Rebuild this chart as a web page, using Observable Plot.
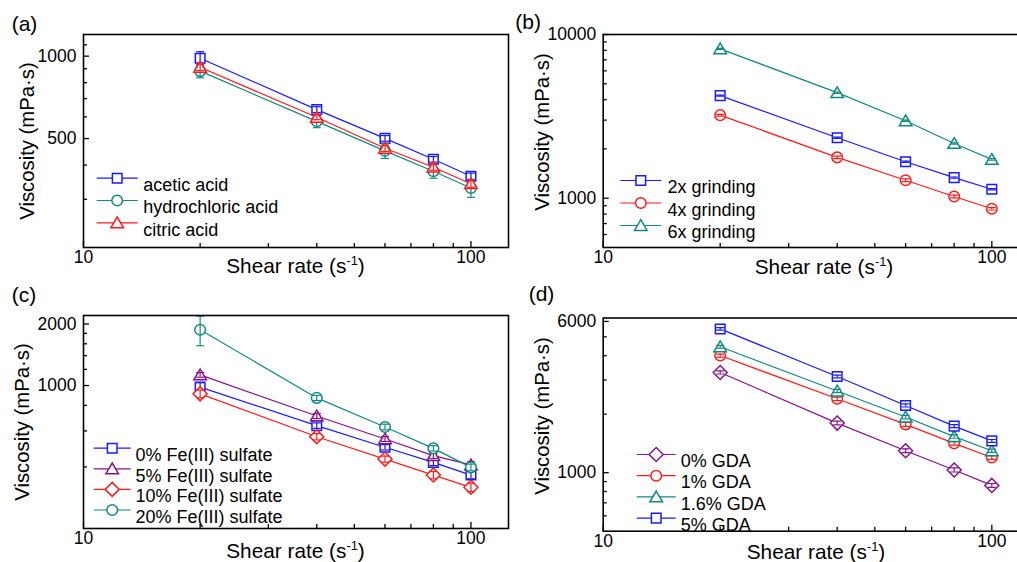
<!DOCTYPE html>
<html><head><meta charset="utf-8">
<script src="https://cdn.jsdelivr.net/npm/d3@7"></script>
<script src="https://cdn.jsdelivr.net/npm/@observablehq/plot@0.6"></script>
<style>
html,body{margin:0;padding:0;background:#fff;}
#root{position:relative;width:1017px;height:562px;overflow:hidden;font-family:"Liberation Sans",Arial,sans-serif;color:#000;background:#fff;}
#root svg{position:absolute;}
.lab{position:absolute;font-size:21px;line-height:1;white-space:nowrap;}
.xt{position:absolute;font-size:20.8px;line-height:1;white-space:nowrap;transform:translateX(-50%);}
.yt{position:absolute;font-size:20.3px;line-height:1;white-space:nowrap;transform:translate(-50%,-50%) rotate(-90deg);}
sup{font-size:0.62em;line-height:0;vertical-align:0.6em;}
</style></head><body><div id="root"></div><script>
// ---------- data ----------
const shearRate = [20, 40, 60, 80, 100];
const xMajorTicks = [10, 100];
const xMinorTicks = [20, 30, 40, 50, 60, 70, 80, 90];

// (a) acid type
const aNames = ["acetic acid", "hydrochloric acid", "citric acid"];
const aAcetic = [983, 638, 501, 420, 364];
const aAceticErr = [55, 16, 12, 10, 10];
const aHydrochloric = [882, 578, 451, 380, 330];
const aHydrochloricErr = [48, 30, 28, 22, 25];
const aCitric = [911, 598, 461, 393, 342];
const aCitricErr = [25, 12, 12, 10, 10];
const aYMajor = [500, 1000];
const aYMinor = [300, 400, 600, 700, 800, 900, 1100];

// (b) grinding
const bNames = ["2x grinding", "4x grinding", "6x grinding"];
const b2x = [4231, 2339, 1671, 1336, 1135];
const b2xErr = [30, 20, 15, 12, 10];
const b4x = [3216, 1776, 1287, 1024, 862];
const b4xErr = [40, 30, 25, 20, 15];
const b6x = [8173, 4415, 2971, 2160, 1726];
const b6xErr = [60, 40, 30, 20, 20];
const bYMajor = [1000, 10000];
const bYMinor = [600, 700, 800, 900, 2000, 3000, 4000, 5000, 6000, 7000, 8000, 9000];

// (c) Fe(III) sulfate
const cNames = ["0% Fe(III) sulfate", "5% Fe(III) sulfate", "10% Fe(III) sulfate", "20% Fe(III) sulfate"];
const c0 = [982, 637, 499, 421, 365];
const c0Err = [50, 20, 15, 15, 15];
const c5 = [1128, 710, 548, 454, 409];
const c5Err = [30, 20, 15, 15, 15];
const c10 = [911, 562, 437, 365, 318];
const c10Err = [40, 20, 15, 15, 15];
const c20 = [1875, 870, 627, 493, 398];
const c20Err = [310, 25, 20, 15, 15];
const cYMajor = [1000, 2000];
const cYMinor = [400, 600, 800, 1200, 1400, 1600, 1800];

// (d) GDA
const dNames = ["0% GDA", "1% GDA", "1.6% GDA", "5% GDA"];
const d0 = [3279, 1800, 1297, 1033, 860];
const d0Err = [60, 40, 30, 25, 20];
const d1 = [4006, 2400, 1772, 1416, 1197];
const d1Err = [70, 50, 40, 30, 25];
const d16 = [4444, 2632, 1934, 1534, 1297];
const d16Err = [70, 50, 40, 30, 25];
const d5 = [5491, 3125, 2218, 1736, 1457];
const d5Err = [80, 50, 40, 30, 25];
const dYMajor = [1000, 6000];
const dYMinor = [600, 700, 800, 900, 2000, 3000, 4000, 5000];

// ---------- styles ----------
const BLUE = "#1a1aff", RED = "#ff1a1a", TEAL = "#138a80", PURPLE = "#86128a";
const FONT = "'Liberation Sans', Arial, sans-serif";

const sym = {
  square: {draw(c){ c.moveTo(-4.8,-4.8); c.lineTo(4.8,-4.8); c.lineTo(4.8,4.8); c.lineTo(-4.8,4.8); c.closePath(); }},
  circle: {draw(c){ c.moveTo(5.3,0); c.arc(0,0,5.3,0,2*Math.PI); c.closePath(); }},
  triangle: {draw(c){ c.moveTo(0,-5.8); c.lineTo(6.3,4.9); c.lineTo(-6.3,4.9); c.closePath(); }},
  diamond: {draw(c){ c.moveTo(0,-7); c.lineTo(7,0); c.lineTo(0,7); c.lineTo(-7,0); c.closePath(); }}
};
const cap = {draw(c){ c.moveTo(-4,0); c.lineTo(4,0); }};
const seg = (len) => ({draw(c){ c.moveTo(-len/2,0); c.lineTo(len/2,0); }});

function makePanel(cfg) {
  const marks = [];
  const tables = cfg.series.map(s => shearRate.map((x, i) => ({x, y: s.values[i], lo: s.values[i] - s.err[i], hi: s.values[i] + s.err[i]})));
  cfg.series.forEach((s, k) => marks.push(Plot.line(tables[k], {x: "x", y: "y", stroke: s.color, strokeWidth: 1.2})));
  cfg.series.forEach((s, k) => {
    marks.push(Plot.dot(tables[k], {x: "x", y: "y", symbol: sym[s.shape], r: 5, fill: "white", stroke: s.color, strokeWidth: 1.5}));
    marks.push(Plot.ruleX(tables[k], {x: "x", y1: "lo", y2: "hi", stroke: s.color, strokeWidth: 1.2, clip: true}));
    marks.push(Plot.dot(tables[k], {x: "x", y: "hi", symbol: cap, stroke: s.color, strokeWidth: 1.2, clip: true}));
    marks.push(Plot.dot(tables[k], {x: "x", y: "lo", symbol: cap, stroke: s.color, strokeWidth: 1.2, clip: true}));
  });
  // legend
  const L = cfg.legend;
  cfg.series.forEach((s, k) => {
    const dy = L.y0 + k * L.step;
    marks.push(Plot.dot([s.name], {frameAnchor: "top-left", dx: L.mx, dy, symbol: seg(L.len), stroke: s.color, strokeWidth: 1.2}));
    marks.push(Plot.dot([s.name], {frameAnchor: "top-left", dx: L.mx, dy, symbol: sym[s.shape], r: 5, fill: "white", stroke: s.color, strokeWidth: 1.5}));
    marks.push(Plot.text([s.name], {frameAnchor: "top-left", dx: L.tx, dy, text: d => d, textAnchor: "start", fontSize: 18, fill: "black"}));
  });
  // axes: inward ticks
  marks.push(Plot.axisX({ticks: xMajorTicks, tickSize: -6, tickFormat: () => "", label: null, strokeWidth: 1.3}));
  marks.push(Plot.axisX({ticks: xMinorTicks, tickSize: -4, tickFormat: () => "", label: null, strokeWidth: 1.3}));
  marks.push(Plot.axisY({ticks: cfg.yMajor, tickSize: -6, tickFormat: () => "", label: null, strokeWidth: 1.3}));
  marks.push(Plot.axisY({ticks: cfg.yMinor, tickSize: -4, tickFormat: () => "", label: null, strokeWidth: 1.3}));
  // tick labels
  marks.push(Plot.text(xMajorTicks, {x: d => d, frameAnchor: "bottom", dy: 15.5, text: d => String(d), fontSize: 17.5, fill: "black"}));
  marks.push(Plot.text(cfg.yMajor, {y: d => d, frameAnchor: "left", dx: -7, textAnchor: "end", text: d => String(d), fontSize: 17.5, fill: "black"}));
  marks.push(Plot.frame({stroke: "black", strokeWidth: 1.6}));
  const svg = Plot.plot({
    width: cfg.width, height: cfg.height,
    marginLeft: cfg.m[0], marginTop: cfg.m[1], marginRight: cfg.m[2], marginBottom: cfg.m[3],
    x: {type: "log", domain: [10, 125]},
    y: {type: "log", domain: cfg.yDomain},
    style: {fontFamily: FONT, fontSize: "17.5px", color: "black", background: "transparent", overflow: "visible"},
    marks
  });
  svg.style.left = cfg.left + "px";
  svg.style.top = cfg.top + "px";
  return svg;
}

const root = document.getElementById("root");

root.appendChild(makePanel({
  left: 0, top: 0, width: 510, height: 280, m: [83, 34, 2, 33],
  yDomain: [200, 1200], yMajor: aYMajor, yMinor: aYMinor,
  series: [
    {name: aNames[0], values: aAcetic, err: aAceticErr, color: BLUE, shape: "square"},
    {name: aNames[1], values: aHydrochloric, err: aHydrochloricErr, color: TEAL, shape: "circle"},
    {name: aNames[2], values: aCitric, err: aCitricErr, color: RED, shape: "triangle"}
  ],
  legend: {mx: 33.7, tx: 59.7, y0: 143.7, step: 22.3, len: 41}
}));

root.appendChild(makePanel({
  left: 510, top: 0, width: 521, height: 280, m: [92.7, 34, 2, 33],
  yDomain: [500, 10000], yMajor: bYMajor, yMinor: bYMinor,
  series: [
    {name: bNames[0], values: b2x, err: b2xErr, color: BLUE, shape: "square"},
    {name: bNames[1], values: b4x, err: b4xErr, color: RED, shape: "circle"},
    {name: bNames[2], values: b6x, err: b6xErr, color: TEAL, shape: "triangle"}
  ],
  legend: {mx: 37.6, tx: 64.3, y0: 146, step: 22.5, len: 41}
}));

root.appendChild(makePanel({
  left: 0, top: 280, width: 510, height: 282, m: [83, 35, 2, 34],
  yDomain: [200, 2200], yMajor: cYMajor, yMinor: cYMinor,
  series: [
    {name: cNames[0], values: c0, err: c0Err, color: BLUE, shape: "square"},
    {name: cNames[1], values: c5, err: c5Err, color: PURPLE, shape: "triangle"},
    {name: cNames[2], values: c10, err: c10Err, color: RED, shape: "diamond"},
    {name: cNames[3], values: c20, err: c20Err, color: TEAL, shape: "circle"}
  ],
  legend: {mx: 28.7, tx: 52, y0: 132.7, step: 20.6, len: 37}
}));

root.appendChild(makePanel({
  left: 510, top: 280, width: 521, height: 282, m: [92.7, 37.5, 2, 31.3],
  yDomain: [500, 6250], yMajor: dYMajor, yMinor: dYMinor,
  series: [
    {name: dNames[0], values: d0, err: d0Err, color: PURPLE, shape: "diamond"},
    {name: dNames[1], values: d1, err: d1Err, color: RED, shape: "circle"},
    {name: dNames[2], values: d16, err: d16Err, color: TEAL, shape: "triangle"},
    {name: dNames[3], values: d5, err: d5Err, color: BLUE, shape: "square"}
  ],
  legend: {mx: 53, tx: 77.6, y0: 136.5, step: 21.2, len: 39}
}));

// ---------- titles ----------
const html = [];
const panelLabels = [["(a)", 11.7, 12.7], ["(b)", 515.3, 11], ["(c)", 11.7, 284.4], ["(d)", 528.7, 282.7]];
panelLabels.forEach(([t, x, y]) => html.push(`<div class="lab" style="left:${x}px;top:${y}px">${t}</div>`));
const xTitles = [[295.5, 255.5], [824, 257], [295.5, 541], [816, 542]];
xTitles.forEach(([x, y]) => html.push(`<div class="xt" style="left:${x}px;top:${y}px">Shear rate (s<sup>-1</sup>)</div>`));
const yTitles = [[27, 140.5], [542, 132], [22, 422], [542, 416]];
yTitles.forEach(([x, y]) => html.push(`<div class="yt" style="left:${x}px;top:${y}px">Viscosity (mPa·s)</div>`));
root.insertAdjacentHTML("beforeend", html.join(""));
</script></body></html>
